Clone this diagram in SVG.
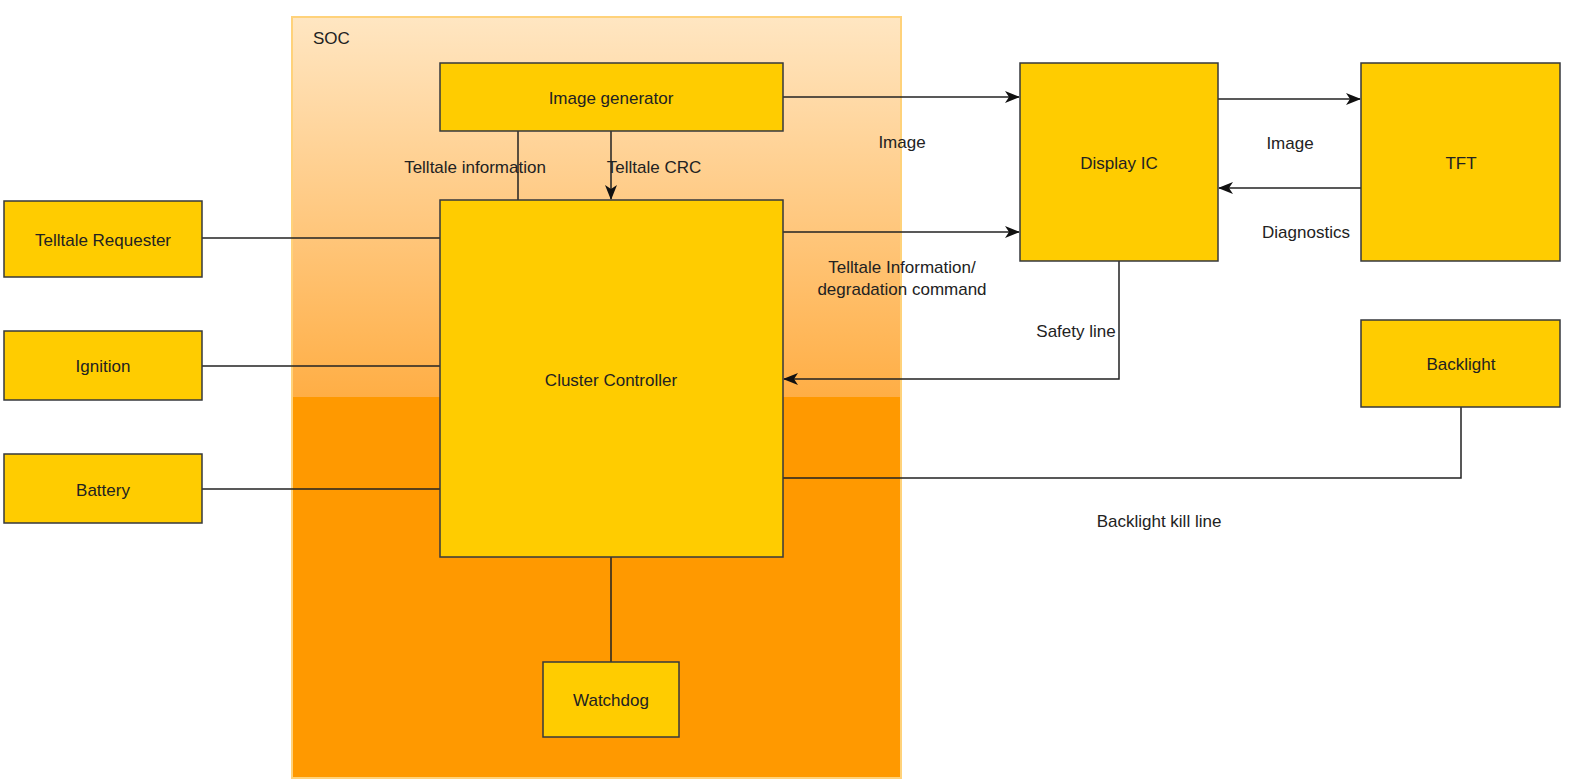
<svg xmlns="http://www.w3.org/2000/svg" width="1571" height="781" viewBox="0 0 1571 781">
<style>
.box{fill:#FFCC00;stroke:#36393d;stroke-width:1.5}
.t{font-family:"Liberation Sans",Arial,sans-serif;font-size:17px;fill:#222;text-anchor:middle}
.l{fill:none;stroke:#222;stroke-width:1.5}
</style>
<defs>
<linearGradient id="gloss" x1="0" y1="0" x2="0" y2="1">
<stop offset="0" stop-color="#FFE6C2"/>
<stop offset="1" stop-color="#FFAE45"/>
</linearGradient>
<marker id="arr" viewBox="0 0 15 12" refX="14" refY="6" markerWidth="15" markerHeight="12" markerUnits="userSpaceOnUse" orient="auto">
<path d="M0,0 L15,6 L0,12 L4,6 Z" fill="#111"/>
</marker>
</defs>
<rect width="1571" height="781" fill="#fff"/>
<g id="soc">
<rect x="292" y="17" width="609" height="761" fill="#FF9900"/>
<rect x="292" y="17" width="609" height="380" fill="url(#gloss)"/>
<rect x="292" y="17" width="609" height="761" fill="none" stroke="#FFD27A" stroke-width="2"/>
<text x="313" y="44" class="t" style="text-anchor:start">SOC</text>
</g>
<g id="connectors">
<path class="l" d="M783,97 H1019" marker-end="url(#arr)"/>
<path class="l" d="M783,232 H1019" marker-end="url(#arr)"/>
<path class="l" d="M1119,261 V379 H784" marker-end="url(#arr)"/>
<path class="l" d="M1218,99 H1360" marker-end="url(#arr)"/>
<path class="l" d="M1361,188 H1219" marker-end="url(#arr)"/>
<path class="l" d="M1461,407 V478 H783"/>
<path class="l" d="M202,238 H440"/>
<path class="l" d="M202,366 H440"/>
<path class="l" d="M202,489 H440"/>
<path class="l" d="M518,131 V200"/>
<path class="l" d="M611,131 V199" marker-end="url(#arr)"/>
<path class="l" d="M611,557 V662"/>
<text x="902" y="148" class="t">Image</text>
<text x="902" y="273" class="t">Telltale Information/</text>
<text x="902" y="295" class="t">degradation command</text>
<text x="1076" y="337" class="t">Safety line</text>
<text x="1290" y="149" class="t">Image</text>
<text x="1306" y="238" class="t">Diagnostics</text>
<text x="1159" y="527" class="t">Backlight kill line</text>
<text x="475" y="173" class="t">Telltale information</text>
<text x="654" y="173" class="t">Telltale CRC</text>
</g>
<g id="image-generator"><rect class="box" x="440" y="63" width="343" height="68"/><text x="611" y="104" class="t">Image generator</text></g>
<g id="cluster-controller"><rect class="box" x="440" y="200" width="343" height="357"/><text x="611" y="386" class="t">Cluster Controller</text></g>
<g id="watchdog"><rect class="box" x="543" y="662" width="136" height="75"/><text x="611" y="706" class="t">Watchdog</text></g>
<g id="telltale-requester"><rect class="box" x="4" y="201" width="198" height="76"/><text x="103" y="246" class="t">Telltale Requester</text></g>
<g id="ignition"><rect class="box" x="4" y="331" width="198" height="69"/><text x="103" y="372" class="t">Ignition</text></g>
<g id="battery"><rect class="box" x="4" y="454" width="198" height="69"/><text x="103" y="496" class="t">Battery</text></g>
<g id="display-ic"><rect class="box" x="1020" y="63" width="198" height="198"/><text x="1119" y="169" class="t">Display IC</text></g>
<g id="tft"><rect class="box" x="1361" y="63" width="199" height="198"/><text x="1461" y="169" class="t">TFT</text></g>
<g id="backlight"><rect class="box" x="1361" y="320" width="199" height="87"/><text x="1461" y="370" class="t">Backlight</text></g>
</svg>
